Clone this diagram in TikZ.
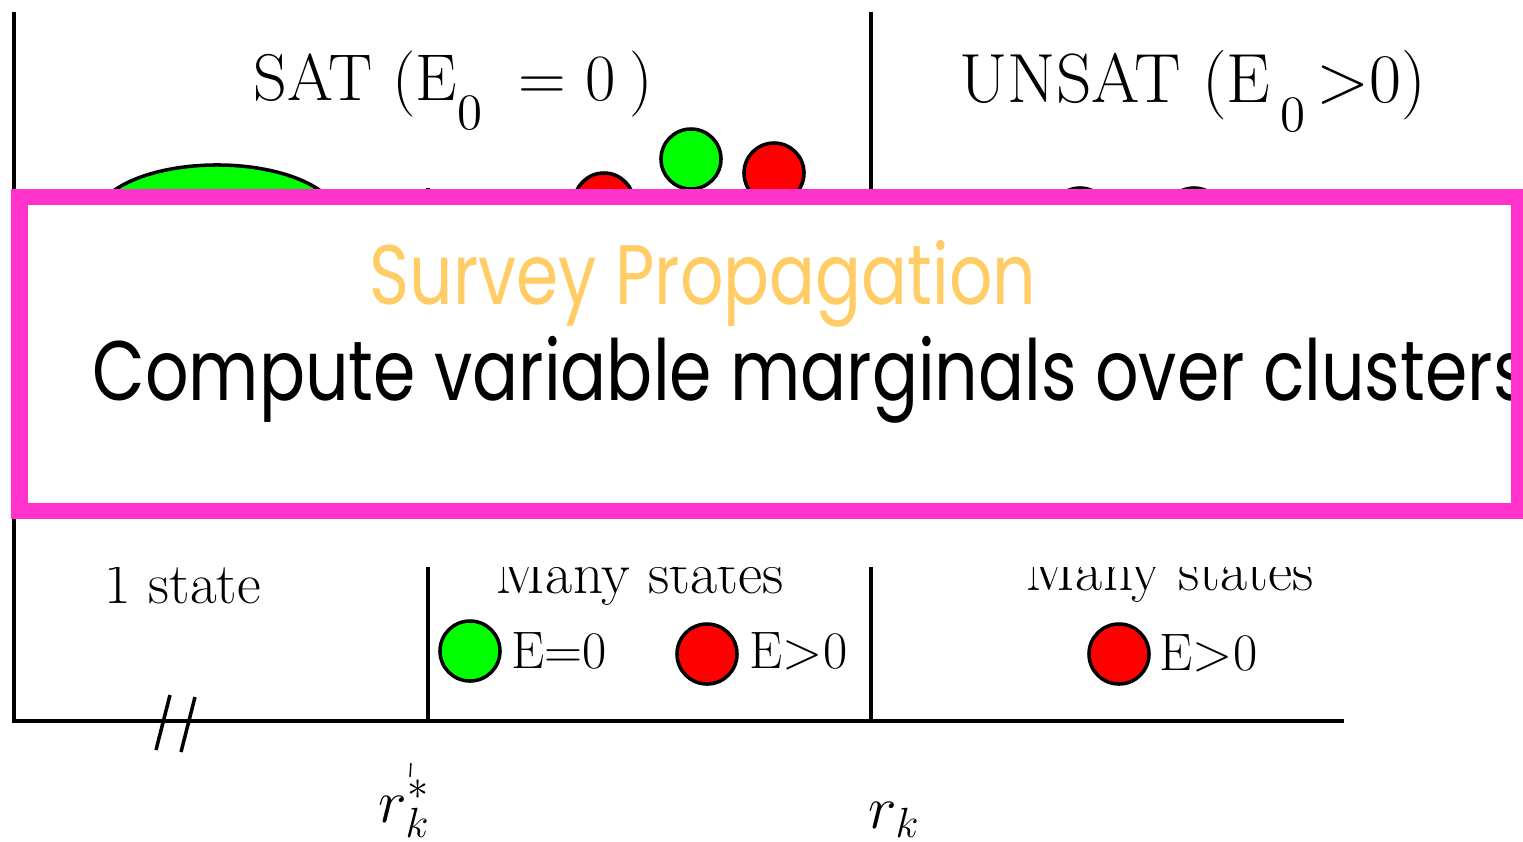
\documentclass[tikz,border=0pt]{standalone}
\usepackage{fontspec}
\newfontfamily\comicfont{Poppins}
\usetikzlibrary{positioning, shapes.geometric}
\definecolor{boxpink}{RGB}{255,51,204}
\definecolor{surveyor}{RGB}{255,204,102}
\definecolor{stgreen}{RGB}{0,255,0}
\definecolor{stred}{RGB}{255,0,0}
\newcommand{\subz}{\raisebox{-8.5pt}{\fontsize{14.5}{15}\selectfont 0}}

\begin{document}
\begin{tikzpicture}[x=0.01cm,y=-0.01cm,
    axis/.style={line width=1.15pt},
    dot/.style={circle,draw,line width=1pt,minimum size=0.6cm,inner sep=0pt},
    lbl/.style={anchor=base west,inner sep=0pt,font=\fontsize{15}{17}\selectfont},
    ttl/.style={anchor=base west,inner sep=0pt,font=\fontsize{18.8}{20}\selectfont},
    boxtxt/.style={anchor=base west,inner sep=0pt,font=\comicfont\fontsize{24}{26}\selectfont}]
  \useasboundingbox (0,0) rectangle (1523,841);
  \coordinate (top) at (14,12);
  \coordinate (orig) at (14,721);
  \coordinate (xend) at (1344,721);
  \coordinate (d1top) at (428,188);
  \coordinate (d1bot) at (428,721);
  \coordinate (d2top) at (871,12);
  \coordinate (d2bot) at (871,721);
  \draw[axis] (top) -- (orig) -- (xend);
  \draw[axis] (d1top) -- (d1bot);
  \draw[axis] (d2top) -- (d2bot);
  \draw[line width=1pt] (170,695) -- (156,750);
  \draw[line width=1pt] (195,697) -- (181,752);
  \draw[line width=0.4pt] (411,763) -- (410,777);
  \node[ttl] (sat) at (253,100) {SAT (E\subz\hspace{0.55em}=\hspace{0.3em}0\hspace{0.2em})};
  \node[ttl,font=\fontsize{19.8}{21}\selectfont] (unsat) at (959,102) {UNSAT\hspace{0.3em}(E\hspace{0.15em}\subz\hspace{0.15em}>0)};
  \node[draw,ellipse,fill=stgreen,line width=1pt,minimum width=2.44cm,minimum height=1.1cm] (big) at (217,220) {};
  \node[dot,fill=stred] (c1) at (604,203) {};
  \node[dot,fill=stgreen] (c2) at (691,159) {};
  \node[dot,fill=stred] (c3) at (774,173) {};
  \node[dot,fill=stred] (c4) at (1080,218) {};
  \node[dot,fill=stred] (c5) at (1194,218) {};
  \node[lbl,font=\fontsize{16.5}{18}\selectfont] (one) at (104,603) {1 state};
  \node[lbl,font=\fontsize{16.8}{18}\selectfont] (many1) at (495,593) {Many states};
  \node[lbl,font=\fontsize{16.8}{18}\selectfont] (many2) at (1025,590) {Many states};
  \node[dot,fill=stgreen] (g1) at (470,651) {};
  \node[lbl] (g1txt) at (511,668) {E=0};
  \node[dot,fill=stred] (r1) at (707,654) {};
  \node[lbl] (r1txt) at (749,668) {E>0};
  \node[dot,fill=stred] (r2) at (1119,654) {};
  \node[lbl] (r2txt) at (1159,670) {E>0};
  \node[anchor=base west,inner sep=0pt,font=\fontsize{18}{20}\selectfont] (rstar) at (378,822) {$r_k^*$};
  \node[anchor=base west,inner sep=0pt,font=\fontsize{18}{20}\selectfont] (rk) at (868,828) {$r_k$};
  \fill[white] (17,197) rectangle (1523,567);
  \node[boxtxt,text=surveyor] (sp) at (369,304) {\scalebox{0.806}[1]{Survey Propagation}};
  \node[boxtxt] (cvm) at (92,400) {\scalebox{0.808}[1]{Compute variable marginals over clusters}};
  \draw[boxpink,line width=0.16cm] (19.5,197) rectangle (1519,511);
\end{tikzpicture}
\end{document}
